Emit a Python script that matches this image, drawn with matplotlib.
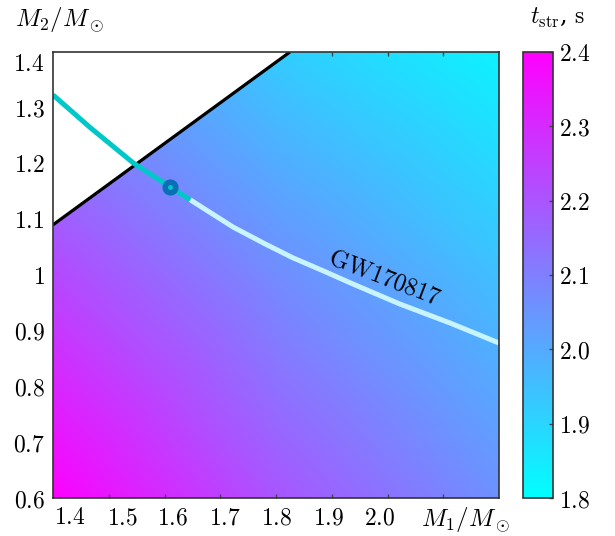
import numpy as np
import matplotlib
matplotlib.use("Agg")
import matplotlib.pyplot as plt

plt.rcParams['mathtext.fontset'] = 'cm'
plt.rcParams['font.family'] = ['DejaVu Serif']

# ---- data ----
# t_str field sampled on a coarse grid of (M1, M2) nodes
m1_nodes = [1.4, 1.8, 2.2]
m2_nodes = [0.6, 1.0, 1.4]
t_str = [[2.40, 2.20, 2.06],   # M2 = 0.6
         [2.23, 2.07, 1.95],   # M2 = 1.0
         [2.05, 1.92, 1.83]]   # M2 = 1.4

# boundary of the allowed region (black line)
bound_m1 = [1.4, 1.825]
bound_m2 = [1.09, 1.4]

# GW170817 chirp-mass curve
gw_m1 = [1.400, 1.466, 1.544, 1.610, 1.646, 1.723, 1.780, 1.830, 1.888, 1.933, 2.022, 2.112, 2.200]
gw_m2 = [1.323, 1.265, 1.201, 1.158, 1.135, 1.086, 1.056, 1.031, 1.006, 0.986, 0.948, 0.914, 0.878]
gw_split = 1.646          # cyan part below this M1, light part above
marker_m1, marker_m2 = 1.61, 1.158

xtick_labels = ['1.4', '1.5', '1.6', '1.7', '1.8', '1.9', '2.0']
ytick_vals = [0.6, 0.7, 0.8, 0.9, 1.0, 1.1, 1.2, 1.3, 1.4]
ytick_labels = ['0.6', '0.7', '0.8', '0.9', '1', '1.1', '1.2', '1.3', '1.4']
cbar_ticks = [1.8, 1.9, 2.0, 2.1, 2.2, 2.3, 2.4]

# ---- figure ----
fig = plt.figure(figsize=(6.15, 5.36), dpi=100)
ax = fig.add_axes([53/615, 1-498/536, 446/615, 446/536])
cax = fig.add_axes([523/615, 1-498/536, 30/615, 446/536])

mesh = ax.pcolormesh(m1_nodes, m2_nodes, np.array(t_str), shading='gouraud',
                     cmap='cool', vmin=1.8, vmax=2.4, zorder=1)

# white out the region beyond the boundary
ax.fill([bound_m1[0], bound_m1[1], bound_m1[0]],
        [bound_m2[0], bound_m2[1], bound_m2[1]], color='white', zorder=2, lw=0)
ax.plot(bound_m1, bound_m2, color='black', lw=2.3, zorder=3, solid_capstyle='butt')

gx = np.array(gw_m1); gy = np.array(gw_m2)
lo = gx <= gw_split + 1e-9
hi = gx >= gw_split - 1e-9
ax.plot(gx[hi], gy[hi], color='#c8f4ff', lw=3.6, zorder=4, solid_capstyle='butt',
        solid_joinstyle='round')
ax.plot(gx[lo], gy[lo], color='#00c8c8', lw=3.6, zorder=5, solid_capstyle='butt',
        solid_joinstyle='round')
ax.plot([marker_m1], [marker_m2], 'o', ms=7.6, mfc='#00c8c8', mec='#0a6fb5',
        mew=4.0, zorder=6)

ax.text(1.995, 0.994, r'$\mathrm{GW170817}$', rotation=-21, fontsize=17.5,
        ha='center', va='center', zorder=7, rotation_mode='anchor')

ax.set_xlim(1.4, 2.2)
ax.set_ylim(0.6, 1.4)

# x tick labels placed where the reference shows them; true 0.1 ticks as minor marks
px = 0.8 / 446.0
xlab_px = [70, 122, 173, 225, 277, 329, 380]
ax.set_xticks([1.4 + (p - 53) * px for p in xlab_px])
ax.set_xticklabels(['$' + s + '$' for s in xtick_labels])
ax.set_xticks(np.arange(1.5, 2.15, 0.1), minor=True)
ax.tick_params(axis='x', which='major', length=0, pad=6, labelsize=17)
ax.tick_params(axis='x', which='minor', direction='in', length=3, width=1,
               top=True, bottom=True, color='#444444')

ypos = list(ytick_vals)
ypos[-1] = 1.4 - 10 * px
ax.set_yticks(ypos)
ax.set_yticklabels(['$' + s + '$' for s in ytick_labels])
ax.tick_params(axis='y', which='major', length=0, pad=6, labelsize=17)

for s in ax.spines.values():
    s.set_color('#333333')
    s.set_linewidth(1.2)
    s.set_zorder(10)

cb = fig.colorbar(mesh, cax=cax)
cb.set_ticks(cbar_ticks)
cb.set_ticklabels(['$%.1f$' % v for v in cbar_ticks])
cax.tick_params(direction='in', length=3, width=1, labelsize=17, pad=4, color='#444444')
cb.outline.set_edgecolor('#333333')
cb.outline.set_linewidth(1.2)

fig.text(60/615, 1-20/536, r'$M_2/M_\odot$', fontsize=18, ha='center', va='center')
fig.text(466/615, 1-520/536, r'$M_1/M_\odot$', fontsize=18, ha='center', va='center')
fig.text(557/615, 1-18/536, r'$t_{\rm str}$, $\mathrm{s}$', fontsize=17, ha='center', va='center')

fig.savefig('out.png', dpi=100)
